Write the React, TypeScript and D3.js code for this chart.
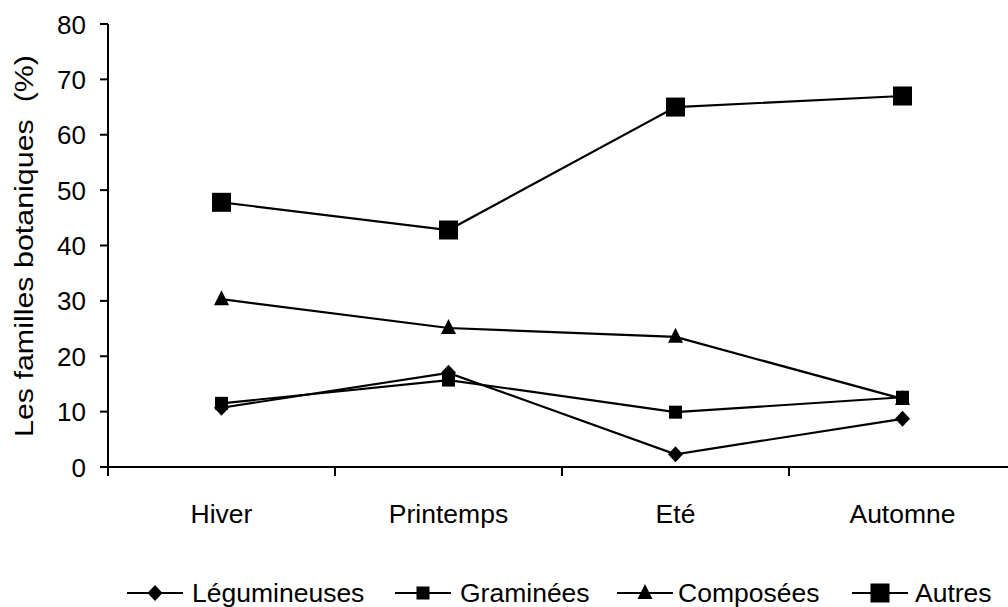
import React from "react";
import * as d3 from "d3";

const categories = ["Hiver", "Printemps", "Eté", "Automne"];
const legumineuses = [10.7, 17.0, 2.3, 8.7];
const graminees = [11.5, 15.7, 9.9, 12.6];
const composees = [30.3, 25.1, 23.5, 12.3];
const autres = [47.8, 42.8, 65.0, 67.0];
const yTicks = [0, 10, 20, 30, 40, 50, 60, 70, 80];
const seriesNames = ["Légumineuses", "Graminées", "Composées", "Autres"];

const W = 1008;
const H = 607;
const FONT = "'Liberation Sans', Arial, Helvetica, sans-serif";

type Shape = "diamond" | "square" | "triangle" | "bigsquare";

function Marker({ shape, x, y }: { shape: Shape; x: number; y: number }) {
  if (shape === "diamond") {
    const rx = 7.5;
    const ry = 8;
    return <path d={`M${x},${y - ry}L${x + rx},${y}L${x},${y + ry}L${x - rx},${y}Z`} fill="#000" />;
  }
  if (shape === "square") {
    const s = 13;
    return <rect x={x - s / 2} y={y - s / 2} width={s} height={s} fill="#000" />;
  }
  if (shape === "triangle") {
    const s = 15;
    const h = 15;
    return <path d={`M${x},${y - h * 0.6}L${x + s / 2},${y + h * 0.4}L${x - s / 2},${y + h * 0.4}Z`} fill="#000" />;
  }
  const s = 19;
  return <rect x={x - s / 2} y={y - s / 2} width={s} height={s} fill="#000" />;
}

export default function App() {
  const x = d3.scaleBand<string>().domain(categories).range([108, 1016]).padding(0);
  const y = d3.scaleLinear().domain([0, 80]).range([467, 24]);
  const cx = (c: string) => (x(c) ?? 0) + x.bandwidth() / 2;

  const series: { name: string; values: number[]; shape: Shape }[] = [
    { name: seriesNames[0], values: legumineuses, shape: "diamond" },
    { name: seriesNames[1], values: graminees, shape: "square" },
    { name: seriesNames[2], values: composees, shape: "triangle" },
    { name: seriesNames[3], values: autres, shape: "bigsquare" },
  ];

  const line = d3
    .line<number>()
    .x((_, i) => cx(categories[i]))
    .y((d) => y(d));

  const boundaries = d3.range(categories.length + 1).map((i) => 108 + i * x.step());

  const legendItems = [
    { lineX: 127, textX: 192 },
    { lineX: 395, textX: 460 },
    { lineX: 617, textX: 678 },
    { lineX: 852, textX: 915 },
  ];
  const legendLineY = 593;
  const legendBaseline = 602;

  return (
    <svg
      width={W}
      height={H}
      style={{ position: "absolute", left: 0, top: 0, background: "#fff" }}
      fontFamily={FONT}
    >
      <rect x={0} y={0} width={W} height={H} fill="#fff" />
      {/* Y axis */}
      <line x1={108} x2={108} y1={y(80)} y2={y(0)} stroke="#000" strokeWidth={2} />
      {yTicks.map((t) => (
        <g key={t}>
          <line x1={100} x2={108} y1={y(t)} y2={y(t)} stroke="#000" strokeWidth={2} />
          <text
            x={86}
            y={y(t) + 9.5}
            textAnchor="end"
            fontSize={26}
            fill="#000"
          >
            {t}
          </text>
        </g>
      ))}
      {/* X axis */}
      <line x1={108} x2={1016} y1={y(0)} y2={y(0)} stroke="#000" strokeWidth={2} />
      {boundaries.map((b, i) => (
        <line key={i} x1={b} x2={b} y1={y(0)} y2={y(0) + 9} stroke="#000" strokeWidth={2} />
      ))}
      {categories.map((c) => (
        <text key={c} x={cx(c)} y={523} textAnchor="middle" fontSize={26.5} fill="#000">
          {c}
        </text>
      ))}
      {/* Y title */}
      <text
        transform={`translate(33,246) rotate(-90)`}
        x={-191}
        y={0}
        fontSize={25.5}
        fill="#000"
        textLength={382}
        lengthAdjust="spacingAndGlyphs"
        style={{ whiteSpace: "pre" }}
      >
        {"Les familles botaniques  (%)"}
      </text>
      {/* Series */}
      {series.map((s) => (
        <g key={s.name}>
          <path d={line(s.values) ?? ""} fill="none" stroke="#000" strokeWidth={2.2} />
          {s.values.map((v, i) => (
            <Marker key={i} shape={s.shape} x={cx(categories[i])} y={y(v)} />
          ))}
        </g>
      ))}
      {/* Legend */}
      {series.map((s, i) => {
        const it = legendItems[i];
        return (
          <g key={s.name}>
            <line
              x1={it.lineX}
              x2={it.lineX + 56}
              y1={legendLineY}
              y2={legendLineY}
              stroke="#000"
              strokeWidth={2.2}
            />
            <Marker shape={s.shape} x={it.lineX + 28} y={legendLineY} />
            <text x={it.textX} y={legendBaseline} fontSize={26.5} fill="#000">
              {s.name}
            </text>
          </g>
        );
      })}
    </svg>
  );
}
